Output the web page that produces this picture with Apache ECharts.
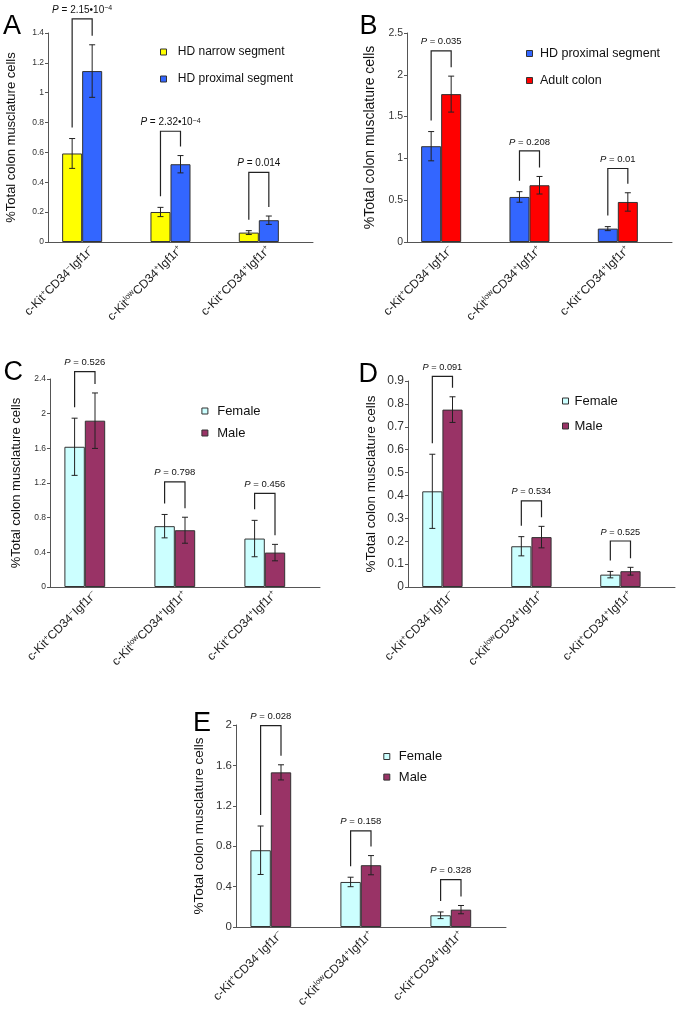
<!DOCTYPE html>
<html><head><meta charset="utf-8">
<script src="https://cdn.jsdelivr.net/npm/echarts@6/dist/echarts.min.js"></script>
<style>html,body{margin:0;padding:0;background:#fff}#c{width:680px;height:1016px}</style>
</head><body><div id="c"></div>
<script>
const categories = ['c-Kit^+CD34^-Igf1r^-', 'c-Kit^lowCD34^+Igf1r^+', 'c-Kit^+CD34^+Igf1r^+'];
const yTitle = '%Total colon musclature cells';

// Panel A
const aNames = ['HD narrow segment', 'HD proximal segment'];
const aNarrow = [0.593, 0.201, 0.063];
const aNarrowErr = [0.10, 0.031, 0.013];
const aProximal = [1.145, 0.521, 0.146];
const aProximalErr = [0.176, 0.058, 0.028];
const aP = ['2.15•10^-4', '2.32•10^-4', '0.014'];
const aBracket = [1.494, 0.742, 0.467];
const aTicks = [0, 0.2, 0.4, 0.6, 0.8, 1, 1.2, 1.4];

// Panel B
const bNames = ['HD proximal segment', 'Adult colon'];
const bProximal = [1.146, 0.539, 0.160];
const bProximalErr = [0.175, 0.063, 0.024];
const bAdult = [1.769, 0.679, 0.479];
const bAdultErr = [0.215, 0.105, 0.11];
const bP = ['0.035', '0.208', '0.01'];
const bBracket = [2.287, 1.09, 0.879];
const bTicks = [0, 0.5, 1, 1.5, 2, 2.5];

// Panel C
const cNames = ['Female', 'Male'];
const cFemale = [1.618, 0.702, 0.559];
const cFemaleErr = [0.33, 0.135, 0.21];
const cMale = [1.919, 0.655, 0.397];
const cMaleErr = [0.32, 0.15, 0.095];
const cP = ['0.526', '0.798', '0.456'];
const cBracket = [2.486, 1.214, 1.08];
const cTicks = [0, 0.4, 0.8, 1.2, 1.6, 2, 2.4];

// Panel D
const dNames = ['Female', 'Male'];
const dFemale = [0.418, 0.178, 0.054];
const dFemaleErr = [0.162, 0.042, 0.014];
const dMale = [0.775, 0.218, 0.069];
const dMaleErr = [0.056, 0.047, 0.017];
const dP = ['0.091', '0.534', '0.525'];
const dBracket = [0.92, 0.376, 0.201];
const dTicks = [0, 0.1, 0.2, 0.3, 0.4, 0.5, 0.6, 0.7, 0.8, 0.9];

// Panel E
const eNames = ['Female', 'Male'];
const eFemale = [0.76, 0.446, 0.116];
const eFemaleErr = [0.24, 0.047, 0.033];
const eMale = [1.531, 0.612, 0.172];
const eMaleErr = [0.075, 0.095, 0.041];
const eP = ['0.028', '0.158', '0.328'];
const eBracket = [1.993, 0.952, 0.47];
const eTicks = [0, 0.4, 0.8, 1.2, 1.6, 2];

const FONT = '"Liberation Sans", Arial, sans-serif';
const GAP = 0.32;

function richLabel(s) {
  return s.split(/\^(low|\+|-)/).map((t, i) =>
    i % 2 ? '{s|' + (t === '-' ? '\u2212' : t) + '}' : (t ? '{n|' + t + '}' : '')).join('');
}
function pText(s) {
  const parts = s.split('^');
  let out = '{i|P}{n| = ' + parts[0] + '}';
  if (parts[1]) out += '{s|' + parts[1].replace('-', '\u2212') + '}';
  return out;
}

const panels = [
  { letter: 'A', lx: 3, ly: 27, names: aNames, vals: [aNarrow, aProximal], errs: [aNarrowErr, aProximalErr],
    colors: ['#FFFF00', '#3366FF'], p: aP, bracket: aBracket, ticks: aTicks,
    grid: { left: 48, top: 33, width: 265, height: 209 }, tickSize: 8.5, nameSize: 13, nameGap: 30, pSize: 10,
    lg: { left: 160, top: 46, itemWidth: 18.6, itemGap: 15, fontSize: 12 } },
  { letter: 'B', lx: 359.5, ly: 26.5, names: bNames, vals: [bProximal, bAdult], errs: [bProximalErr, bAdultErr],
    colors: ['#3366FF', '#FF0000'], p: bP, bracket: bBracket, ticks: bTicks,
    grid: { left: 407, top: 33, width: 265, height: 209 }, tickSize: 10.5, nameSize: 14, nameGap: 30, pSize: 9.5,
    lg: { left: 526, top: 47, itemWidth: 10.8, itemGap: 14, fontSize: 12.5 } },
  { letter: 'C', lx: 3.5, ly: 373, names: cNames, vals: [cFemale, cMale], errs: [cFemaleErr, cMaleErr],
    colors: ['#CCFFFF', '#993366'], p: cP, bracket: cBracket, ticks: cTicks,
    grid: { left: 50, top: 379, width: 270, height: 208 }, tickSize: 8.5, nameSize: 13, nameGap: 27, pSize: 9.5,
    lg: { left: 201.4, top: 404.5, itemWidth: 14.6, itemGap: 9, fontSize: 13 } },
  { letter: 'D', lx: 358.5, ly: 375, names: dNames, vals: [dFemale, dMale], errs: [dFemaleErr, dMaleErr],
    colors: ['#CCFFFF', '#993366'], p: dP, bracket: dBracket, ticks: dTicks,
    grid: { left: 408, top: 381, width: 267, height: 206 }, tickSize: 12, nameSize: 13.5, nameGap: 30, pSize: 9.2,
    lg: { left: 562, top: 394.5, itemWidth: 8, itemGap: 12, fontSize: 13 } },
  { letter: 'E', lx: 193, ly: 724, names: eNames, vals: [eFemale, eMale], errs: [eFemaleErr, eMaleErr],
    colors: ['#CCFFFF', '#993366'], p: eP, bracket: eBracket, ticks: eTicks,
    grid: { left: 236, top: 725, width: 270, height: 202 }, tickSize: 11.5, nameSize: 13.5, nameGap: 30, pSize: 9.5,
    lg: { left: 383.3, top: 750, itemWidth: 14, itemGap: 7.6, fontSize: 13 } }
];

const option = { animation: false, textStyle: { fontFamily: FONT },
  grid: [], xAxis: [], yAxis: [], series: [], legend: [], graphic: [] };

panels.forEach((P, k) => {
  option.grid.push(P.grid);
  option.xAxis.push({
    type: 'category', gridIndex: k, data: categories,
    axisLine: { lineStyle: { color: '#555', width: 1 } },
    axisTick: { inside: true, length: 3, lineStyle: { color: '#555' } },
    axisLabel: { interval: 0, rotate: 45, margin: 6, color: '#222', formatter: richLabel,
      rich: { n: { fontSize: 12, lineHeight: 14, color: '#222', fontFamily: FONT },
              s: { fontSize: 8, lineHeight: 8, verticalAlign: 'top', color: '#222', fontFamily: FONT } } }
  });
  const t = P.ticks;
  option.yAxis.push({
    type: 'value', gridIndex: k, min: t[0], max: t[t.length - 1], interval: t[1] - t[0],
    splitLine: { show: false },
    axisLine: { show: true, lineStyle: { color: '#555', width: 1 } },
    axisTick: { show: true, length: 3, lineStyle: { color: '#555' } },
    axisLabel: { fontSize: P.tickSize, color: '#333', margin: 4 },
    name: yTitle, nameLocation: 'middle', nameGap: P.nameGap,
    nameTextStyle: { fontSize: P.nameSize, color: '#111' }
  });
  P.vals.forEach((v, j) => option.series.push({
    type: 'bar', name: P.names[j], xAxisIndex: k, yAxisIndex: k, data: v,
    barGap: '0%', barCategoryGap: (GAP * 100) + '%', silent: true,
    itemStyle: { color: P.colors[j], borderColor: '#333', borderWidth: 1 }
  }));
  option.series.push({
    type: 'bar', name: 'pad' + k, xAxisIndex: k, yAxisIndex: k, data: ['-', '-', '-'],
    barGap: '0%', barCategoryGap: (GAP * 100) + '%', silent: true
  });
  const errData = [];
  P.vals.forEach((v, j) => v.forEach((m, i) => errData.push([i, m, P.errs[j][i], j])));
  option.series.push({
    type: 'custom', xAxisIndex: k, yAxisIndex: k, data: errData, encode: { x: 0, y: 1 }, z: 5, silent: true,
    renderItem: (params, api) => {
      const cat = api.value(0), m = api.value(1), e = api.value(2), slot = api.value(3);
      const bw = api.size([1, 0])[0] * (1 - GAP) / 3;
      const x = api.coord([cat, m])[0] + (slot - 1) * bw;
      const yt = api.coord([cat, m + e])[1], yb = api.coord([cat, m - e])[1];
      const st = { stroke: '#222', lineWidth: 1 };
      return { type: 'group', children: [
        { type: 'line', shape: { x1: x, y1: yt, x2: x, y2: yb }, style: st },
        { type: 'line', shape: { x1: x - 3, y1: yt, x2: x + 3, y2: yt }, style: st },
        { type: 'line', shape: { x1: x - 3, y1: yb, x2: x + 3, y2: yb }, style: st }
      ] };
    }
  });
  option.series.push({
    type: 'custom', xAxisIndex: k, yAxisIndex: k, data: categories.map((c, i) => [i, P.bracket[i]]),
    encode: { x: 0, y: 1 }, z: 6, silent: true, clip: false,
    renderItem: (params, api) => {
      const i = params.dataIndex;
      const bw = api.size([1, 0])[0] * (1 - GAP) / 3;
      const c = api.coord([i, P.bracket[i]]);
      const xl = c[0] - bw, xr = c[0], yb = c[1];
      const yl = api.coord([i, P.vals[0][i] + P.errs[0][i]])[1] - 11;
      const yr = api.coord([i, P.vals[1][i] + P.errs[1][i]])[1] - 9;
      return { type: 'group', children: [
        { type: 'polyline', shape: { points: [[xl, yl], [xl, yb], [xr, yb], [xr, yr]] },
          style: { stroke: '#222', lineWidth: 1.2, fill: 'none' } },
        { type: 'text', style: { text: pText(P.p[i]), x: (xl + xr) / 2, y: yb - 9, align: 'center', verticalAlign: 'middle',
          fill: '#111', fontSize: P.pSize, fontFamily: FONT,
          rich: { i: { fontStyle: 'italic', fontSize: P.pSize, fontFamily: FONT, fill: '#111' },
                  n: { fontSize: P.pSize, fontFamily: FONT, fill: '#111' },
                  s: { fontSize: P.pSize * 0.7, fontFamily: FONT, verticalAlign: 'top', fill: '#111' } } } }
      ] };
    }
  });
  option.legend.push({
    data: P.names, orient: 'vertical', left: P.lg.left, top: P.lg.top, padding: 0,
    itemWidth: P.lg.itemWidth, itemHeight: 6, itemGap: P.lg.itemGap, icon: 'path://M0 0H10V10H0Z',
    selectedMode: false, textStyle: { fontSize: P.lg.fontSize, color: '#111', fontFamily: FONT },
    itemStyle: { borderColor: '#333', borderWidth: 1 }
  });
  option.graphic.push({
    type: 'text', x: P.lx, y: P.ly, silent: true,
    style: { text: P.letter, fontSize: 27, fontFamily: FONT, fill: '#000', verticalAlign: 'middle', align: 'left' }
  });
});

const chart = echarts.init(document.getElementById('c'));
chart.setOption(option);
</script>
</body></html>
